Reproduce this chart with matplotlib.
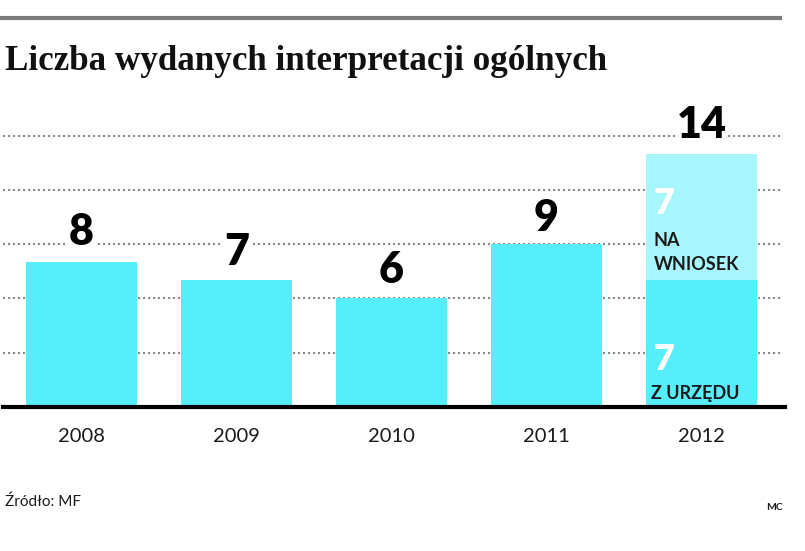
import matplotlib
matplotlib.use("Agg")
import matplotlib.pyplot as plt
from matplotlib.lines import Line2D

years = ["2008", "2009", "2010", "2011", "2012"]
totals = [8, 7, 6, 9, 14]
z_urzedu_2012 = 7
na_wniosek_2012 = 7
gridlines = [3, 6, 9, 12, 15]

title = "Liczba wydanych interpretacji ogólnych"
source = "Źródło: MF"
author = "MC"

W, H = 805, 551
fig = plt.figure(figsize=(W / 100, H / 100), dpi=100)
fig.patch.set_facecolor("white")

ppu = 18.1
ax_left, ax_right = 3, 782
base_y = 407
ymax = 16.0
ax_top = base_y - ymax * ppu
ax = fig.add_axes([ax_left / W, (H - base_y) / H, (ax_right - ax_left) / W, (base_y - ax_top) / H])
x0 = -(81.5 - ax_left) / 155
x1 = (ax_right - 81.5) / 155
ax.set_xlim(x0, x1)
ax.set_ylim(0, ymax)
ax.axis("off")

cyan = "#57EEFC"
light = "#A8F6FD"

for g in gridlines:
    ax.axhline(g, color="#8a8a8a", lw=1.5, ls=(0, (1, 1.4)), zorder=1)

bw = 111 / 155
label_gap = [0.55, 0.45, 0.45, 0.35, 0.45]
for i, (yr, t) in enumerate(zip(years, totals)):
    if yr == "2012":
        ax.bar(i, z_urzedu_2012, width=bw, color=cyan, zorder=2)
        ax.bar(i, na_wniosek_2012, bottom=z_urzedu_2012, width=bw, color=light, zorder=2)
    else:
        ax.bar(i, t, width=bw, color=cyan, zorder=2)
    ax.text(i, t + label_gap[i], str(t), ha="center", va="bottom", fontsize=31,
            fontweight="heavy", family=["Lato", "DejaVu Sans"], color="black", zorder=4,
            bbox=dict(boxstyle="square,pad=0.04", fc="white", ec="none"))
    ax.text(i, -1.15, yr, ha="center", va="top", fontsize=14.5,
            family=["Lato", "DejaVu Sans"], color="#1a1a1a")

# Baseline
fig.add_artist(Line2D([3 / W, 785 / W], [(H - 407) / H] * 2, color="black", lw=3, zorder=5))

# 2012 segment labels
lx = 4 - bw / 2 + 0.05
ax.text(lx, z_urzedu_2012 + na_wniosek_2012 - 1.85, str(na_wniosek_2012), ha="left", va="top",
        fontsize=26, fontweight="heavy", color="white", family=["Lato", "DejaVu Sans"], zorder=5)
ax.text(lx, z_urzedu_2012 + 0.4, "NA\nWNIOSEK", ha="left", va="bottom", fontsize=13,
        fontweight="bold", color="#1a1a1a", family=["Lato", "DejaVu Sans"], linespacing=1.5, zorder=5)
ax.text(lx, 3.55, str(z_urzedu_2012), ha="left", va="top",
        fontsize=26, fontweight="heavy", color="white", family=["Lato", "DejaVu Sans"], zorder=5)
ax.text(lx - 0.02, 0.3, "Z URZĘDU", ha="left", va="bottom", fontsize=13,
        fontweight="bold", color="#1a1a1a", family=["Lato", "DejaVu Sans"], zorder=5)

# Top rule
fig.add_artist(Line2D([0, 780 / W], [(H - 18) / H] * 2, color="#7a7a7a", lw=3))

fig.text(5 / W, (H - 70) / H, title, ha="left", va="baseline", fontsize=25.2,
         fontweight="bold", family=["Liberation Serif", "DejaVu Serif"], color="#111111")
fig.text(5 / W, (H - 502) / H, source, ha="left", va="center", fontsize=11,
         family=["Lato", "DejaVu Sans"], color="#1a1a1a")
fig.text(783 / W, (H - 508) / H, author, ha="right", va="center", fontsize=7.5,
         fontweight="bold", family=["Lato", "DejaVu Sans"], color="#1a1a1a")

fig.savefig("out.png", dpi=100, facecolor="white")
